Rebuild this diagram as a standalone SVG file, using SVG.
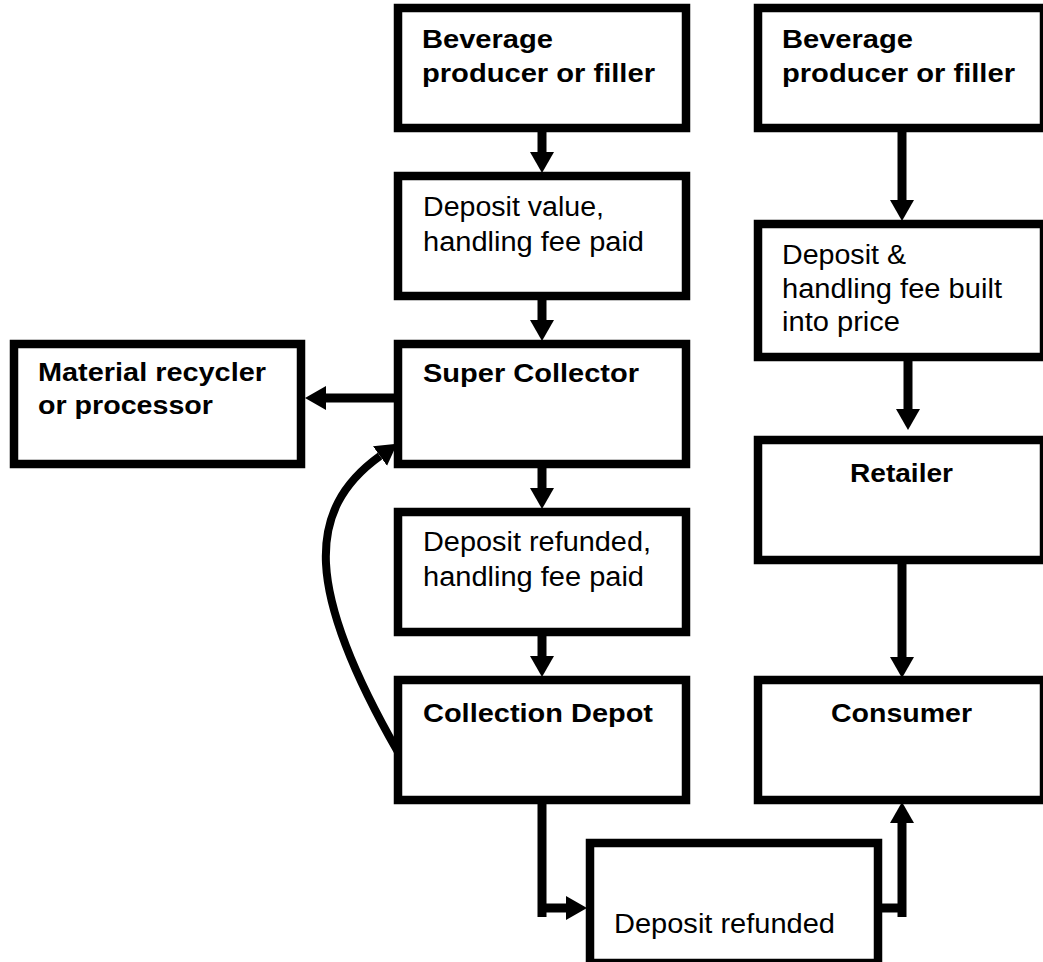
<svg xmlns="http://www.w3.org/2000/svg" width="1043" height="962" viewBox="0 0 1043 962">
<style>
.box{fill:#fff;stroke:#000;stroke-width:8.5}
.b{font-family:"Liberation Sans",Arial,sans-serif;font-weight:bold;font-size:25px;fill:#000}
.r{font-family:"Liberation Sans",Arial,sans-serif;font-size:27px;fill:#000}
.c{fill:none;stroke:#000;stroke-width:9}
.cv{fill:none;stroke:#000;stroke-width:8}
</style>
<defs>
<marker id="ah" markerUnits="userSpaceOnUse" markerWidth="22" markerHeight="26" viewBox="0 -13 22 26" refX="0" refY="0" orient="auto">
<path d="M0,-12 L21,0 L0,12 z" fill="#000"/>
</marker>
</defs>
<rect width="1043" height="962" fill="#fff"/>
<g id="connectors">
<line class="c" x1="542" y1="128" x2="542" y2="152" marker-end="url(#ah)"/>
<line class="c" x1="542" y1="296" x2="542" y2="320" marker-end="url(#ah)"/>
<line class="c" x1="542" y1="464" x2="542" y2="488" marker-end="url(#ah)"/>
<line class="c" x1="542" y1="632" x2="542" y2="656" marker-end="url(#ah)"/>
<line class="c" x1="395" y1="398" x2="326" y2="398" marker-end="url(#ah)"/>
<path class="cv" d="M398,752 C305,590 305,510 380,456" marker-end="url(#ah)"/>
<line class="c" x1="542" y1="800" x2="542" y2="917"/>
<line class="c" x1="538" y1="908" x2="566" y2="908" marker-end="url(#ah)"/>
<line class="c" x1="882" y1="908" x2="906" y2="908"/>
<line class="c" x1="902" y1="917" x2="902" y2="823" marker-end="url(#ah)"/>
<line class="c" x1="902" y1="128" x2="902" y2="200" marker-end="url(#ah)"/>
<line class="c" x1="908" y1="357" x2="908" y2="409" marker-end="url(#ah)"/>
<line class="c" x1="902" y1="560" x2="902" y2="657" marker-end="url(#ah)"/>
</g>
<g id="producer-left">
<rect class="box" x="398" y="8" width="288" height="120"/>
<text class="b" x="422" y="48" textLength="131" lengthAdjust="spacingAndGlyphs">Beverage</text>
<text class="b" x="422" y="82" textLength="233" lengthAdjust="spacingAndGlyphs">producer or filler</text>
</g>
<g id="deposit-value">
<rect class="box" x="398" y="176" width="288" height="120"/>
<text class="r" x="423" y="216" textLength="181" lengthAdjust="spacingAndGlyphs">Deposit value,</text>
<text class="r" x="423" y="251" textLength="221" lengthAdjust="spacingAndGlyphs">handling fee paid</text>
</g>
<g id="super-collector">
<rect class="box" x="398" y="344" width="288" height="120"/>
<text class="b" x="423" y="382" textLength="216" lengthAdjust="spacingAndGlyphs">Super Collector</text>
</g>
<g id="material-recycler">
<rect class="box" x="14" y="344" width="287" height="120"/>
<text class="b" x="38" y="381" textLength="228" lengthAdjust="spacingAndGlyphs">Material recycler</text>
<text class="b" x="38" y="414" textLength="175" lengthAdjust="spacingAndGlyphs">or processor</text>
</g>
<g id="deposit-refunded-fee">
<rect class="box" x="398" y="512" width="288" height="120"/>
<text class="r" x="423" y="551" textLength="228" lengthAdjust="spacingAndGlyphs">Deposit refunded,</text>
<text class="r" x="423" y="586" textLength="221" lengthAdjust="spacingAndGlyphs">handling fee paid</text>
</g>
<g id="collection-depot">
<rect class="box" x="398" y="680" width="288" height="120"/>
<text class="b" x="423" y="722" textLength="230" lengthAdjust="spacingAndGlyphs">Collection Depot</text>
</g>
<g id="producer-right">
<rect class="box" x="758" y="8" width="286" height="120"/>
<text class="b" x="782" y="48" textLength="131" lengthAdjust="spacingAndGlyphs">Beverage</text>
<text class="b" x="782" y="82" textLength="233" lengthAdjust="spacingAndGlyphs">producer or filler</text>
</g>
<g id="deposit-built-in">
<rect class="box" x="758" y="224" width="286" height="133"/>
<text class="r" x="782" y="264" textLength="124" lengthAdjust="spacingAndGlyphs">Deposit &amp;</text>
<text class="r" x="782" y="298" textLength="220" lengthAdjust="spacingAndGlyphs">handling fee built</text>
<text class="r" x="782" y="331" textLength="118" lengthAdjust="spacingAndGlyphs">into price</text>
</g>
<g id="retailer">
<rect class="box" x="758" y="440" width="286" height="120"/>
<text class="b" x="850" y="482" textLength="103" lengthAdjust="spacingAndGlyphs">Retailer</text>
</g>
<g id="consumer">
<rect class="box" x="758" y="680" width="286" height="120"/>
<text class="b" x="831" y="722" textLength="141" lengthAdjust="spacingAndGlyphs">Consumer</text>
</g>
<g id="deposit-refunded">
<rect class="box" x="590" y="843" width="288" height="120"/>
<text class="r" x="614" y="933" textLength="221" lengthAdjust="spacingAndGlyphs">Deposit refunded</text>
</g>
</svg>
